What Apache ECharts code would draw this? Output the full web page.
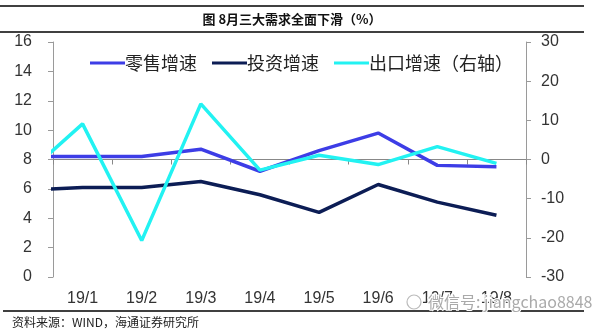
<!DOCTYPE html>
<html>
<head>
<meta charset="utf-8">
<script src="https://cdn.jsdelivr.net/npm/echarts@6/dist/echarts.min.js"></script>
<style>
html,body{margin:0;padding:0;background:#fff;}
#c{width:599px;height:333px;}
</style>
</head>
<body>
<div id="c"></div>
<script>
// ---- data ----
const categories = ['19/1','19/2','19/3','19/4','19/5','19/6','19/7','19/8'];
const prevCategory = '18/12'; // point just left of the plot (clipped)
const seriesNames = ['零售增速','投资增速','出口增速（右轴）'];
const retail = [8.2, 8.2, 8.2, 8.7, 7.2, 8.6, 9.8, 7.6, 7.5];        // 18/12 .. 19/8
const investment = [5.9, 6.1, 6.1, 6.5, 5.6, 4.4, 6.3, 5.1, 4.2];    // 18/12 .. 19/8
const exportsGrowth = [-4.4, 9.1, -20.7, 14.2, -2.7, 1.1, -1.3, 3.3, -1.0]; // 18/12 .. 19/8
const leftTicks = {min: 0, max: 16, interval: 2};
const rightTicks = {min: -30, max: 30, interval: 10};
const titleText = '图 8月三大需求全面下滑（%）';
const sourceText = '资料来源：WIND，海通证券研究所';
const watermarkText = '微信号: jiangchao8848';

const allCats = [prevCategory].concat(categories);
const toPairs = arr => arr.map((v, i) => [i, v]);

const chart = echarts.init(document.getElementById('c'));
const axisGray = '#9a9a9a';
const labelFont = {fontFamily: 'Liberation Sans, Arial, sans-serif', fontSize: 16, color: '#333'};

chart.setOption({
  animation: false,
  backgroundColor: '#fff',
  grid: {left: 53, right: 73, top: 42, bottom: 56, containLabel: false},
  legend: {
    left: 85, top: 49,
    icon: 'rect', itemWidth: 35, itemHeight: 3, itemGap: 15,
    textStyle: {fontFamily: 'Noto Sans CJK SC', fontSize: 18, color: '#222', padding: [0,0,0,-5]},
    data: seriesNames
  },
  xAxis: [
    { // labels only, at bottom
      type: 'category', data: categories, position: 'bottom', boundaryGap: true,
      axisLine: {show: false, onZero: false}, axisTick: {show: false},
      axisLabel: Object.assign({margin: 14}, labelFont)
    },
    { // axis line drawn at zero of right axis, ticks between categories
      type: 'category', data: categories, position: 'bottom', boundaryGap: true,
      axisLine: {show: true, onZero: true, onZeroAxisIndex: 1, lineStyle: {color: '#888', width: 1}},
      axisTick: {show: true, length: 5, lineStyle: {color: '#888'}},
      axisLabel: {show: false}
    },
    { // hidden value axis for series positions
      type: 'value', min: 0.5, max: 8.5, show: false
    }
  ],
  yAxis: [
    {
      type: 'value', position: 'left', min: leftTicks.min, max: leftTicks.max, interval: leftTicks.interval,
      axisLine: {show: true, lineStyle: {color: axisGray, width: 1}},
      axisTick: {show: true, length: 5, lineStyle: {color: axisGray}},
      splitLine: {show: false},
      axisLabel: Object.assign({margin: 21}, labelFont)
    },
    {
      type: 'value', position: 'right', min: rightTicks.min, max: rightTicks.max, interval: rightTicks.interval,
      axisLine: {show: true, lineStyle: {color: axisGray, width: 1}},
      axisTick: {show: true, length: 5, lineStyle: {color: axisGray}},
      splitLine: {show: false},
      axisLabel: Object.assign({margin: 15}, labelFont)
    }
  ],
  series: [
    {
      name: seriesNames[0], type: 'line', xAxisIndex: 2, yAxisIndex: 0,
      data: toPairs(retail), symbol: 'none', clip: true,
      lineStyle: {color: '#3d3de6', width: 3.5}, itemStyle: {color: '#3d3de6'}, z: 3
    },
    {
      name: seriesNames[1], type: 'line', xAxisIndex: 2, yAxisIndex: 0,
      data: toPairs(investment), symbol: 'none', clip: true,
      lineStyle: {color: '#0c1d55', width: 3.5}, itemStyle: {color: '#0c1d55'}, z: 3
    },
    {
      name: seriesNames[2], type: 'line', xAxisIndex: 2, yAxisIndex: 1,
      data: toPairs(exportsGrowth), symbol: 'none', clip: true,
      lineStyle: {color: '#22f2f2', width: 3.5}, itemStyle: {color: '#22f2f2'}, z: 3
    }
  ],
  graphic: [
    {type: 'line', shape: {x1: 0, y1: 6, x2: 584, y2: 6}, style: {stroke: '#000', lineWidth: 1.5}},
    {type: 'line', shape: {x1: 0, y1: 32, x2: 584, y2: 32}, style: {stroke: '#000', lineWidth: 1.5}},
    {type: 'text', x: 292, y: 19, style: {text: titleText, textAlign: 'center', textVerticalAlign: 'middle',
      font: 'bold 13px "Noto Sans CJK SC"', fill: '#111'}},
    {type: 'line', shape: {x1: 3, y1: 311, x2: 584, y2: 311}, style: {stroke: '#000', lineWidth: 1.5}},
    {type: 'text', x: 12, y: 322, style: {text: sourceText, textVerticalAlign: 'middle',
      font: '12px "Noto Sans CJK SC"', fill: '#222'}},
    {type: 'circle', shape: {cx: 414, cy: 302, r: 7}, style: {fill: 'none', stroke: '#bbb', lineWidth: 1.2}, z: 20},
    {type: 'text', x: 428, y: 302, z: 20, style: {text: watermarkText, textVerticalAlign: 'middle',
      font: '16px "Noto Sans CJK SC"', fill: '#aaa', stroke: '#fff', lineWidth: 2}}
  ]
});
</script>
</body>
</html>
